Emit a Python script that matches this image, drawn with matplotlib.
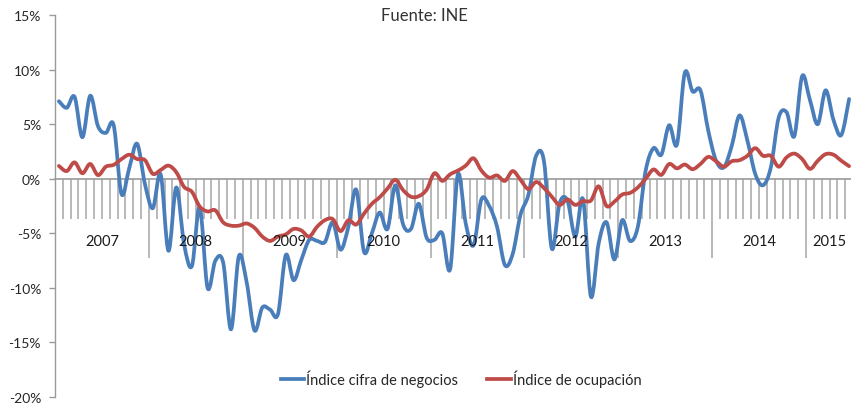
import numpy as np
import matplotlib
matplotlib.use("Agg")
import matplotlib.pyplot as plt
from matplotlib.path import Path
from matplotlib.patches import PathPatch
from matplotlib.lines import Line2D
from matplotlib.ticker import FixedLocator, FuncFormatter, NullFormatter

# Datos mensuales (% variación interanual), ene-2007 a jun-2015
years = ["2007", "2008", "2009", "2010", "2011", "2012", "2013", "2014", "2015"]
months_per_year = [12, 12, 12, 12, 12, 12, 12, 12, 6]

cifra_negocios = [
    7.1, 6.5, 7.5, 3.8, 7.6, 4.8, 4.2, 4.9, -1.4, 1.0, 3.2, -0.5,
    -2.7, 0.4, -6.6, -0.8, -6.0, -8.0, -2.6, -10.0, -7.5, -7.7, -13.8, -7.1,
    -9.5, -13.9, -11.8, -12.0, -12.4, -7.0, -9.3, -7.4, -5.6, -5.7, -5.8, -4.0,
    -6.5, -4.4, -1.0, -6.7, -5.0, -3.1, -4.6, -0.6, -4.2, -4.6, -2.3, -5.4,
    -5.6, -5.0, -8.3, 0.4, -4.1, -6.1, -1.9, -2.5, -4.4, -7.9, -6.9, -3.3,
    -1.5, 2.1, 1.6, -6.4, -2.25, -2.0, -5.3, -1.9, -10.8, -5.9, -4.0, -7.4,
    -3.8, -5.7, -4.4, 0.75, 2.8, 2.2, 4.9, 3.15, 9.7, 8.0, 8.1, 4.4,
    1.65, 1.05, 3.0, 5.8, 3.5, 0.45, -0.6, 1.05, 5.6, 6.1, 3.9, 9.4,
    7.2, 5.0, 8.1, 5.4, 4.0, 7.3,
]

ocupacion = [
    1.17, 0.7, 1.5, 0.5, 1.35, 0.33, 1.1, 1.27, 1.8, 2.2, 1.8, 1.7,
    0.45, 0.8, 1.2, 0.6, -0.75, -1.2, -2.55, -3.0, -2.9, -4.0, -4.3, -4.3,
    -4.1, -4.5, -5.3, -5.7, -5.3, -5.1, -4.6, -4.75, -5.3, -4.4, -3.8, -3.7,
    -4.8, -3.8, -4.2, -3.2, -2.3, -1.7, -0.9, -0.1, -1.05, -1.65, -1.6, -1.0,
    0.5, -0.2, 0.4, 0.75, 1.2, 1.87, 0.75, 0.1, 0.3, -0.2, 0.7, -0.1,
    -0.95, -0.3, -0.85, -1.65, -2.4, -1.9, -2.4, -2.05, -2.0, -0.7, -2.5, -2.1,
    -1.45, -1.3, -0.8, 0.0, 0.85, 0.35, 1.35, 0.95, 1.3, 0.87, 1.35, 2.0,
    1.6, 1.1, 1.6, 1.7, 2.1, 2.8, 2.1, 2.1, 1.1, 1.95, 2.3, 1.8,
    0.9, 1.65, 2.25, 2.2, 1.65, 1.15,
]

azul = "#4A7EBB"
rojo = "#BE4B48"
gris = "#9A9A9A"

plt.rcParams["font.family"] = ["Lato", "DejaVu Sans"]


def smooth_path(x, y):
    # curva suavizada tipo Excel (Catmull-Rom -> Bezier)
    n = len(x)
    verts = [(x[0], y[0])]
    codes = [Path.MOVETO]
    for i in range(n - 1):
        a = max(i - 1, 0)
        b = min(i + 2, n - 1)
        c1 = (x[i] + (x[i + 1] - x[a]) / 6, y[i] + (y[i + 1] - y[a]) / 6)
        c2 = (x[i + 1] - (x[b] - x[i]) / 6, y[i + 1] - (y[b] - y[i]) / 6)
        verts += [c1, c2, (x[i + 1], y[i + 1])]
        codes += [Path.CURVE4] * 3
    return Path(verts, codes)


n = len(cifra_negocios)
x = np.arange(n) + 0.5

fig = plt.figure(figsize=(8.51, 4.06), dpi=100)
ax = fig.add_axes([55 / 851, 8 / 406, 798 / 851, 382 / 406])

lw = 2.7
for serie, color in [(cifra_negocios, azul), (ocupacion, rojo)]:
    p = smooth_path(x, np.array(serie))
    ax.add_patch(PathPatch(p, fill=False, edgecolor=color, lw=lw,
                           capstyle="round", joinstyle="round", zorder=3))

ax.set_xlim(0, n)
ax.set_ylim(-20, 15)

# eje y
ax.set_yticks(np.arange(-20, 16, 5))
ax.yaxis.set_major_formatter(FuncFormatter(lambda v, pos: f"{v:.0f}%"))
ax.tick_params(axis="y", direction="out", length=4, width=1, color=gris,
               labelsize=10, labelcolor="#262626", pad=6)

# eje x en 0 con marcas mensuales y separadores de año
ax.spines["bottom"].set_position(("data", 0))
for s in ["top", "right"]:
    ax.spines[s].set_visible(False)
ax.spines["bottom"].set_color(gris)
ax.spines["left"].set_color(gris)
ax.spines["bottom"].set_linewidth(1.2)
ax.spines["left"].set_linewidth(1.0)

bounds = np.cumsum([0] + months_per_year)
ax.xaxis.set_major_locator(FixedLocator(bounds[1:-1]))
ax.xaxis.set_minor_locator(FixedLocator(np.arange(1, n)))
ax.xaxis.set_major_formatter(NullFormatter())
ax.tick_params(axis="x", which="major", direction="out", length=57,
               width=1.1, color="#A6A6A6")
ax.tick_params(axis="x", which="minor", direction="out", length=29,
               width=1.1, color="#A6A6A6")

centers = (bounds[:-1] + bounds[1:]) / 2
for c, yr in zip(centers, years):
    ax.text(c, -5.75, yr, ha="center", va="center", fontsize=10.5,
            color="#1a1a1a")

fig.text(424 / 851, 1 - 16 / 406, "Fuente: INE", ha="center", va="center",
         fontsize=12, color="#333333")

handles = [Line2D([], [], color=azul, lw=lw),
           Line2D([], [], color=rojo, lw=lw)]
fig.legend(handles, ["Índice cifra de negocios", "Índice de ocupación"],
           loc="center", bbox_to_anchor=(461 / 851, 1 - 379 / 406), ncol=2,
           frameon=False, fontsize=10.5, handlelength=1.6, handletextpad=0.15,
           columnspacing=2.0, labelcolor="#262626")

fig.savefig("out.png", dpi=100)
